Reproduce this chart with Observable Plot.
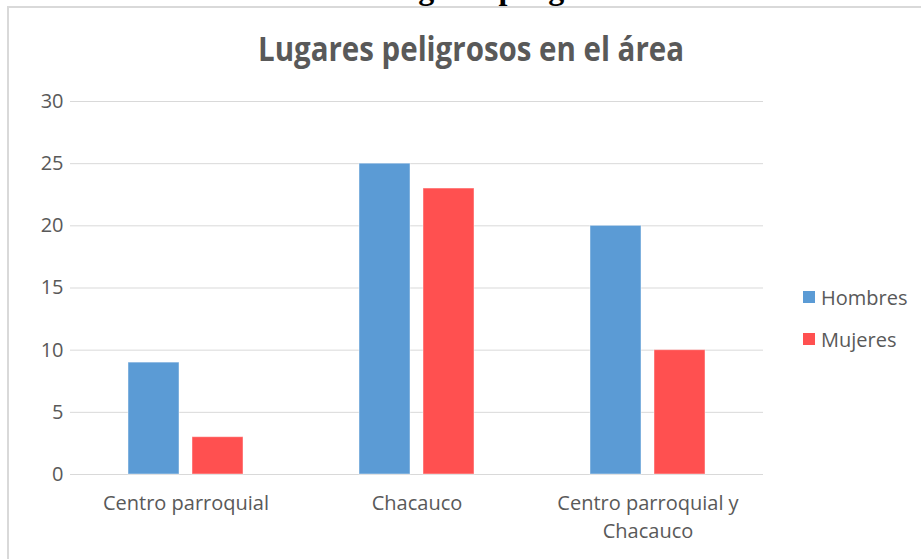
<!DOCTYPE html>
<html>
<head>
<meta charset="utf-8">
<script src="https://cdn.jsdelivr.net/npm/d3@7"></script>
<script src="https://cdn.jsdelivr.net/npm/@observablehq/plot@0.6"></script>
<style>
  html, body { margin: 0; padding: 0; background: #fff; overflow: hidden; }
  #wrap { position: relative; width: 921px; height: 559px; overflow: hidden; }
  #doc { position: absolute; left: 379px; top: -28px; font: bold 32px/32px "Liberation Serif", serif; color: #000; white-space: nowrap; }
  #frame { position: absolute; left: 7px; top: 6px; width: 1000px; height: 700px; border-top: 2px solid #d9d9d9; border-left: 2px solid #d9d9d9; }
  #title { position: absolute; left: 0; top: 0; }
  #legend { position: absolute; left: 803px; top: 284px; font: 20px "Open Sans", sans-serif; color: #595959; }
  .item { display: flex; align-items: center; height: 26px; margin-bottom: 16px; }
  .sw { width: 12px; height: 12px; margin-right: 6px; }
  svg.chart { position: absolute; left: 0; top: 0; }
</style>
</head>
<body>
<div id="wrap">
  <div id="doc">Lugares peligrosos</div>
  <div id="frame"></div>
</div>
<script>
const categories = ["Centro parroquial", "Chacauco", "Centro parroquial y\nChacauco"];
const series = ["Hombres", "Mujeres"];
const hombres = [9, 25, 20];
const mujeres = [3, 23, 10];
const colors = ["#5b9bd5", "#ff5050"];
const yTicks = [0, 5, 10, 15, 20, 25, 30];
const titleText = "Lugares peligrosos en el área";

const data = [];
categories.forEach((c, i) => {
  data.push({cat: c, serie: series[0], value: hombres[i]});
  data.push({cat: c, serie: series[1], value: mujeres[i]});
});

const chart = Plot.plot({
  width: 921,
  height: 559,
  marginLeft: 70,
  marginRight: 158,
  marginTop: 101,
  marginBottom: 85,
  style: {background: "transparent", fontFamily: "'Open Sans', sans-serif", fontSize: "20px", color: "#595959"},
  fx: {domain: categories, padding: 0, label: null},
  x: {domain: series, paddingInner: 0.2, paddingOuter: 0.877, axis: null},
  y: {domain: [0, 30], label: null},
  color: {domain: series, range: colors},
  marks: [
    Plot.gridY(yTicks, {stroke: "#d9d9d9", strokeOpacity: 1, strokeWidth: 1}),
    Plot.barY(data, {fx: "cat", x: "serie", y: "value", fill: "serie", stroke: "#ffffff", strokeOpacity: 0.45, strokeWidth: 1}),
    Plot.axisY(yTicks, {tickSize: 0, tickPadding: 7, fontSize: 20, fill: "#595959", label: null}),
    Plot.axisFx({anchor: "bottom", tickSize: 0, tickPadding: 16, fontSize: 20, lineHeight: 1.4, fill: "#595959", label: null})
  ]
});
chart.classList.add("chart");
const wrap = document.getElementById("wrap");
wrap.insertBefore(chart, document.getElementById("frame"));

// Title as real text
const ns = "http://www.w3.org/2000/svg";
const tsvg = document.createElementNS(ns, "svg");
tsvg.setAttribute("id", "title");
tsvg.setAttribute("width", 921);
tsvg.setAttribute("height", 90);
const t = document.createElementNS(ns, "text");
t.setAttribute("x", 258);
t.setAttribute("y", 61);
t.setAttribute("textLength", 426);
t.setAttribute("lengthAdjust", "spacingAndGlyphs");
t.setAttribute("font-family", "'Open Sans', sans-serif");
t.setAttribute("font-weight", "bold");
t.setAttribute("font-size", 34);
t.setAttribute("fill", "#595959");
t.textContent = titleText;
tsvg.appendChild(t);
wrap.appendChild(tsvg);

// Legend
const leg = document.createElement("div");
leg.id = "legend";
series.forEach((s, i) => {
  const it = document.createElement("div");
  it.className = "item";
  const sw = document.createElement("span");
  sw.className = "sw";
  sw.style.background = colors[i];
  const lab = document.createElement("span");
  lab.textContent = s;
  it.appendChild(sw);
  it.appendChild(lab);
  leg.appendChild(it);
});
wrap.appendChild(leg);
</script>
</body>
</html>
